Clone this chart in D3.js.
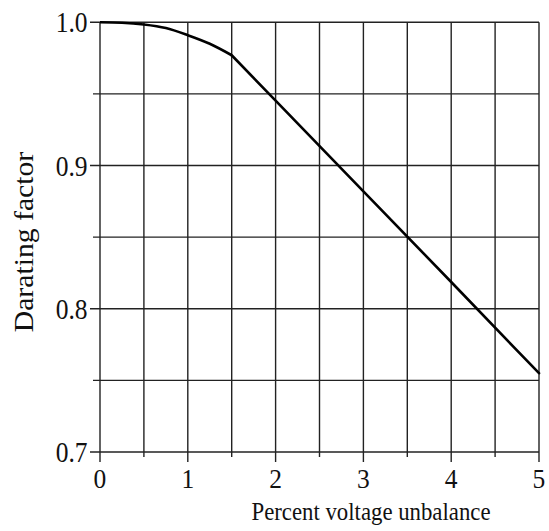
<!DOCTYPE html>
<html><head><meta charset="utf-8">
<script src="https://cdn.jsdelivr.net/npm/d3@7"></script>
<style>
body{margin:0;background:#fff;}
text{font-family:"Liberation Serif","Times New Roman",serif;fill:#111;}
</style></head>
<body><svg id="c" width="549" height="531"></svg>
<script>
// curved knee section and straight section of the derating curve
const kneeX = [0, 0.25, 0.5, 0.75, 1.0, 1.25, 1.5];
const kneeY = [1.0, 0.9997, 0.9985, 0.996, 0.991, 0.985, 0.977];
const lineX = [1.5, 2, 3, 4, 5];
const lineY = [0.977, 0.9453, 0.882, 0.8187, 0.755];
const xMajor = [0, 1, 2, 3, 4, 5];
const xMinor = [0.5, 1.5, 2.5, 3.5, 4.5];
const yMajor = [0.7, 0.8, 0.9, 1.0];
const yMinor = [0.75, 0.85, 0.95];
const xTitle = "Percent voltage unbalance";
const yTitle = "Darating factor";

const svg = d3.select("#c");
const x = d3.scaleLinear().domain([0,5]).range([100,539]);
const y = d3.scaleLinear().domain([0.7,1.0]).range([452,22.3]);
const gridColor = "#222";

yMajor.forEach(v=>{
  svg.append("line").attr("x1",x(0)-10).attr("x2",x(5)).attr("y1",y(v)).attr("y2",y(v))
    .attr("stroke",gridColor).attr("stroke-width",1.4);
});
yMinor.forEach(v=>{
  svg.append("line").attr("x1",x(0)-7).attr("x2",x(5)).attr("y1",y(v)).attr("y2",y(v))
    .attr("stroke",gridColor).attr("stroke-width",1.4);
});
xMajor.forEach(v=>{
  svg.append("line").attr("x1",x(v)).attr("x2",x(v)).attr("y1",y(1.0)).attr("y2",y(0.7)+10)
    .attr("stroke",gridColor).attr("stroke-width",1.4);
});
xMinor.forEach(v=>{
  svg.append("line").attr("x1",x(v)).attr("x2",x(v)).attr("y1",y(1.0)).attr("y2",y(0.7)+5)
    .attr("stroke",gridColor).attr("stroke-width",1.4);
});

yMajor.forEach(v=>{
  svg.append("text").attr("transform",`translate(${x(0)-12.5},${y(v)}) scale(1,1.16)`)
    .attr("text-anchor","end").attr("dominant-baseline","central")
    .attr("font-size",25.5).text(v.toFixed(1));
});
xMajor.forEach(v=>{
  svg.append("text").attr("transform",`translate(${x(v)},488) scale(1,1.1)`)
    .attr("text-anchor","middle").attr("font-size",25.5).text(v);
});

svg.append("text").attr("transform",`translate(${(253+489)/2},520) scale(1,1.15)`)
  .attr("text-anchor","middle").attr("font-size",22.8).text(xTitle);
svg.append("text").attr("transform","translate(33,242) rotate(-90) scale(1.1,1)")
  .attr("text-anchor","middle").attr("font-size",27).text(yTitle);

const knee = kneeX.map((d,i)=>({x:d,y:kneeY[i]}));
const straight = lineX.map((d,i)=>({x:d,y:lineY[i]}));
svg.append("path").datum(knee)
  .attr("d", d3.line().x(d=>x(d.x)).y(d=>y(d.y)).curve(d3.curveMonotoneX))
  .attr("fill","none").attr("stroke","#000").attr("stroke-width",2.6);
svg.append("path").datum(straight)
  .attr("d", d3.line().x(d=>x(d.x)).y(d=>y(d.y)))
  .attr("fill","none").attr("stroke","#000").attr("stroke-width",2.6)
  .attr("stroke-linejoin","round").attr("stroke-linecap","round");
</script></body></html>
